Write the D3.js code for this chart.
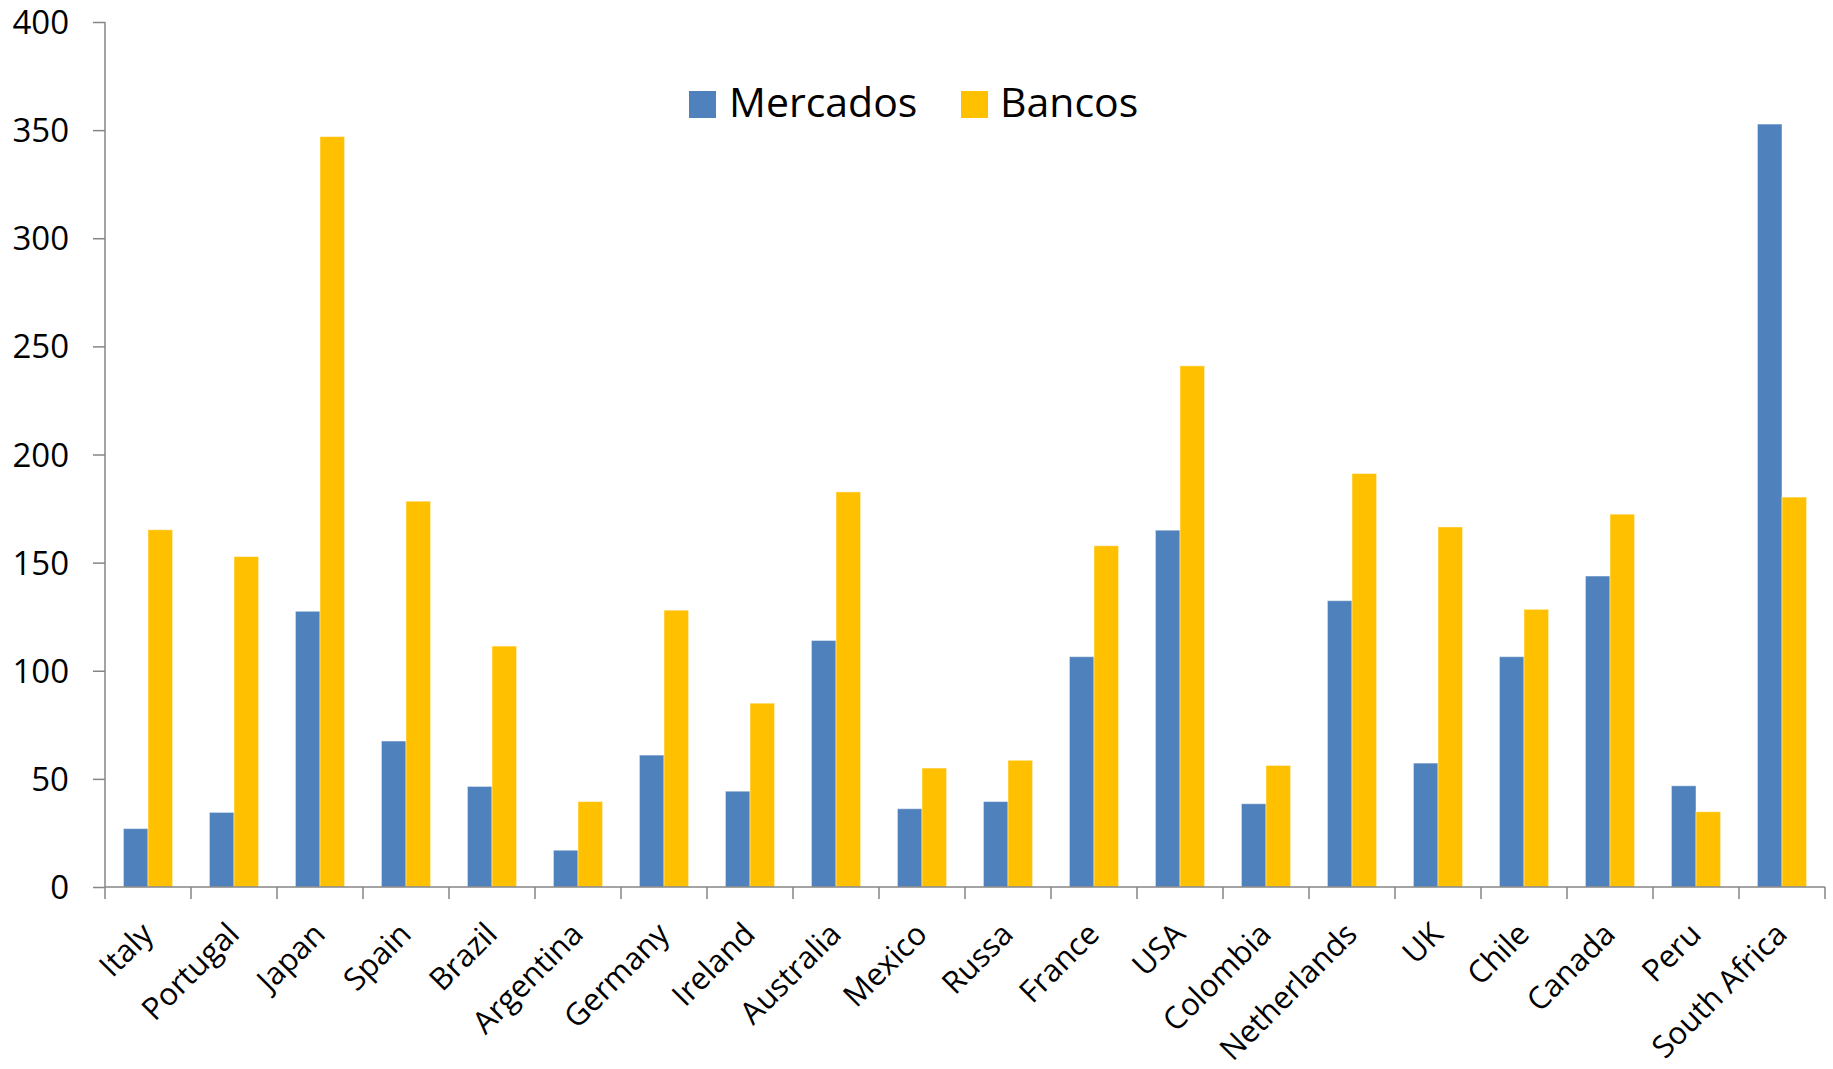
<!DOCTYPE html>
<html>
<head>
<meta charset="utf-8">
<script src="https://cdn.jsdelivr.net/npm/d3@7"></script>
<style>
  html, body { margin: 0; padding: 0; background: #fff; }
  svg { display: block; }
  text { font-family: "Open Sans", sans-serif; fill: #000; }
</style>
</head>
<body>
<svg id="chart" width="1833" height="1069"></svg>
<script>
const categories = ["Italy","Portugal","Japan","Spain","Brazil","Argentina","Germany","Ireland","Australia","Mexico","Russa","France","USA","Colombia","Netherlands","UK","Chile","Canada","Peru","South Africa"];
const mercados = [27, 34.5, 127.5, 67.5, 46.5, 17, 61, 44.3, 114, 36.2, 39.5, 106.5, 165, 38.5, 132.4, 57.3, 106.5, 143.8, 46.8, 352.8];
const bancos   = [165.2, 152.8, 347, 178.4, 111.4, 39.5, 128, 85, 182.7, 55, 58.6, 157.8, 241, 56.2, 191.2, 166.5, 128.4, 172.4, 34.8, 180.3];
const seriesNames = ["Mercados", "Bancos"];
const seriesColors = ["#4F81BD", "#FFC000"];
const yTicks = [0, 50, 100, 150, 200, 250, 300, 350, 400];

const svg = d3.select("#chart");
const pLeft = 105, pRight = 1825, pTop = 22, pBottom = 887;

const x = d3.scaleBand().domain(categories).range([pLeft, pRight]).paddingInner(0).paddingOuter(0);
const xs = d3.scaleBand().domain(seriesNames).range([0, x.bandwidth()]).paddingInner(0).paddingOuter(0.75);
const y = d3.scaleLinear().domain([0, 400]).range([pBottom, pTop]);

const rows = categories.map((c, i) => ({ cat: c, vals: [mercados[i], bancos[i]] }));

// bars
const g = svg.append("g");
rows.forEach(r => {
  r.vals.forEach((v, j) => {
    g.append("rect")
      .attr("x", x(r.cat) + xs(seriesNames[j]))
      .attr("y", y(v))
      .attr("width", xs.bandwidth())
      .attr("height", y(0) - y(v))
      .attr("fill", seriesColors[j])
      .attr("stroke", "rgba(255,255,255,0.45)")
      .attr("stroke-width", 1);
  });
});

// y axis
const yAxis = d3.axisLeft(y).tickValues(yTicks).tickSize(12).tickPadding(24).tickFormat(d3.format("d"));
const ya = svg.append("g").attr("transform", `translate(${pLeft},0)`).call(yAxis);
ya.select(".domain").attr("stroke", "#868686").attr("stroke-width", 1.5).attr("d", `M0,${pTop}V${pBottom}`);
ya.selectAll(".tick line").attr("stroke", "#868686").attr("stroke-width", 1.5);
ya.selectAll(".tick text").attr("font-size", 33).attr("font-family", "Open Sans").attr("fill", "#000").attr("dy", "0.35em");

// x axis
const xa = svg.append("g").attr("transform", `translate(0,${pBottom})`);
xa.append("line").attr("x1", pLeft).attr("x2", pRight).attr("y1", 0).attr("y2", 0)
  .attr("stroke", "#868686").attr("stroke-width", 1.5);
const tickPos = categories.map(c => x(c)).concat([pRight]);
xa.selectAll("line.tk").data(tickPos).enter().append("line").attr("class", "tk")
  .attr("x1", d => d).attr("x2", d => d).attr("y1", 0).attr("y2", 12)
  .attr("stroke", "#868686").attr("stroke-width", 1.5);
xa.selectAll("text.lbl").data(categories).enter().append("text").attr("class", "lbl")
  .attr("text-anchor", "end")
  .attr("font-size", 31)
  .attr("transform", d => `translate(${x(d) + x.bandwidth() / 2 + 7},${49}) rotate(-45)`)
  .text(d => d);

// legend
const leg = svg.append("g");
const legItems = [
  { name: "Mercados", color: seriesColors[0], sx: 689, tx: 729 },
  { name: "Bancos", color: seriesColors[1], sx: 961, tx: 1000 }
];
legItems.forEach(it => {
  leg.append("rect").attr("x", it.sx).attr("y", 91).attr("width", 27).attr("height", 27).attr("fill", it.color);
  leg.append("text").attr("x", it.tx).attr("y", 117).attr("font-size", 41).text(it.name);
});
</script>
</body>
</html>
